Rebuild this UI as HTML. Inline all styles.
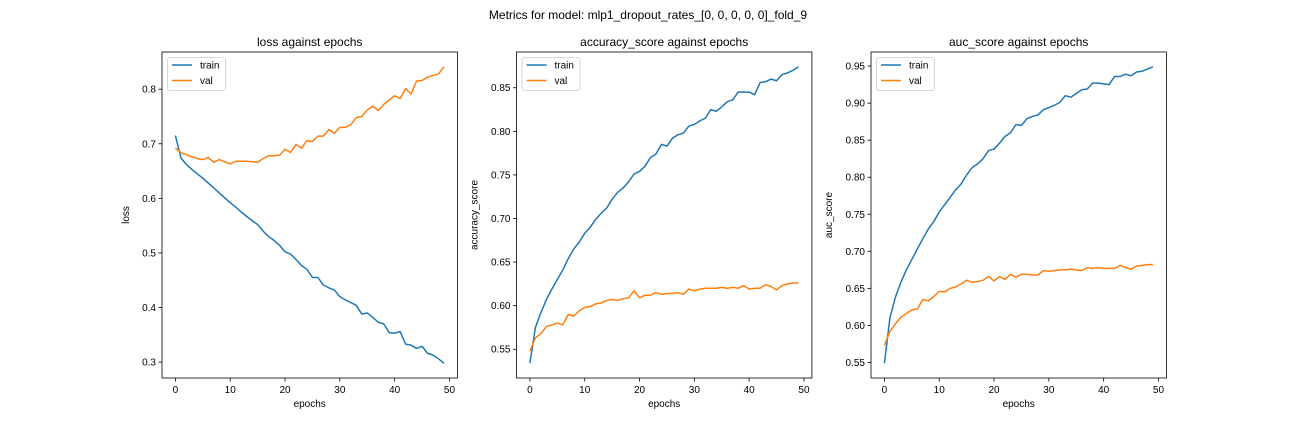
<!DOCTYPE html>
<html><head><meta charset="utf-8"><style>
body{margin:0;background:#fff;}
svg{display:block;font-family:"Liberation Sans","DejaVu Sans",sans-serif;}
</style></head><body>
<svg id="fig" width="1296" height="432" xmlns="http://www.w3.org/2000/svg">
<rect width="1296" height="432" fill="#fff"/>
<text x="648" y="19" text-anchor="middle" font-size="12" fill="#000">Metrics for model: mlp1_dropout_rates_[0, 0, 0, 0, 0]_fold_9</text>
</svg>
<script>
const epochs = Array.from({length:50},(_,i)=>i);
const lossTrain=[0.715,0.674,0.662,0.653,0.645,0.637,0.628,0.619,0.610,0.601,0.592,0.584,0.575,0.567,0.559,0.552,0.540,0.530,0.523,0.514,0.502,0.498,0.488,0.477,0.470,0.455,0.455,0.441,0.436,0.432,0.420,0.414,0.409,0.404,0.388,0.390,0.382,0.373,0.370,0.354,0.353,0.356,0.333,0.331,0.325,0.329,0.316,0.313,0.306,0.298];
const lossVal=[0.692,0.684,0.680,0.676,0.673,0.671,0.675,0.666,0.671,0.667,0.663,0.668,0.668,0.668,0.667,0.666,0.673,0.678,0.678,0.679,0.690,0.684,0.699,0.692,0.706,0.704,0.714,0.714,0.726,0.719,0.730,0.730,0.735,0.748,0.750,0.762,0.769,0.761,0.772,0.780,0.788,0.783,0.801,0.791,0.815,0.816,0.822,0.825,0.828,0.841];
const accTrain=[0.534,0.575,0.592,0.607,0.619,0.630,0.641,0.654,0.665,0.673,0.683,0.690,0.699,0.706,0.712,0.722,0.730,0.735,0.742,0.751,0.754,0.760,0.770,0.774,0.785,0.783,0.792,0.796,0.798,0.806,0.808,0.812,0.815,0.825,0.823,0.828,0.834,0.836,0.845,0.845,0.845,0.842,0.856,0.857,0.860,0.858,0.865,0.867,0.870,0.874];
const accVal=[0.548,0.563,0.568,0.576,0.578,0.580,0.578,0.590,0.588,0.594,0.598,0.599,0.602,0.603,0.606,0.607,0.606,0.608,0.609,0.617,0.609,0.612,0.612,0.615,0.613,0.614,0.614,0.615,0.613,0.619,0.617,0.619,0.620,0.620,0.620,0.621,0.620,0.621,0.620,0.623,0.619,0.620,0.620,0.624,0.622,0.618,0.623,0.625,0.626,0.626];
const aucTrain=[0.549,0.610,0.638,0.658,0.675,0.689,0.703,0.717,0.730,0.740,0.753,0.763,0.773,0.783,0.791,0.803,0.813,0.818,0.825,0.836,0.838,0.846,0.855,0.860,0.871,0.870,0.879,0.882,0.884,0.891,0.894,0.897,0.901,0.910,0.908,0.913,0.918,0.919,0.927,0.927,0.926,0.925,0.936,0.936,0.939,0.937,0.942,0.943,0.946,0.949];
const aucVal=[0.573,0.592,0.602,0.611,0.616,0.621,0.622,0.635,0.633,0.639,0.646,0.645,0.650,0.652,0.656,0.661,0.658,0.659,0.661,0.666,0.660,0.666,0.662,0.669,0.665,0.669,0.669,0.668,0.668,0.674,0.673,0.674,0.675,0.675,0.676,0.675,0.674,0.678,0.677,0.678,0.677,0.677,0.677,0.681,0.678,0.676,0.680,0.681,0.682,0.682];
const xTicks=[0,10,20,30,40,50];
const lossTicks=[0.3,0.4,0.5,0.6,0.7,0.8];
const accTicks=[0.55,0.60,0.65,0.70,0.75,0.80,0.85];
const aucTicks=[0.55,0.60,0.65,0.70,0.75,0.80,0.85,0.90,0.95];

const NS="http://www.w3.org/2000/svg";
const fig=document.getElementById('fig');
function mk(tag,attrs,parent){const e=document.createElementNS(NS,tag);for(const k in attrs)e.setAttribute(k,attrs[k]);(parent||fig).appendChild(e);return e;}

function panel(key,left,title,ylabel,train,val,yTicks,dec){
  const top=52,bottom=378,w=295.4;
  const g=mk('g',{});
  
  
  const all=train.concat(val);
  const mn=Math.min(...all),mx=Math.max(...all),pad=(mx-mn)*0.05;
  const y0=mn-pad,y1=mx+pad;
  const x0=-2.45,x1=51.45;
  const X=v=>left+(v-x0)/(x1-x0)*w;
  const Y=v=>bottom-(v-y0)/(y1-y0)*(bottom-top);
  // ticks
  xTicks.forEach(t=>{
    const tg=mk('g',{},g);
    
    
    mk('line',{x1:X(t),x2:X(t),y1:bottom,y2:bottom+3.5,stroke:'#000','stroke-width':0.8},tg);
    const t1=mk('text',{x:X(t),y:bottom+15,'text-anchor':'middle','font-size':10,fill:'#000'},tg);t1.textContent=t;
  });
  yTicks.forEach(t=>{
    const tg=mk('g',{},g);
    
    
    mk('line',{x1:left-3.5,x2:left,y1:Y(t),y2:Y(t),stroke:'#000','stroke-width':0.8},tg);
    const t1=mk('text',{x:left-6,y:Y(t)+3.5,'text-anchor':'end','font-size':10,fill:'#000'},tg);t1.textContent=t.toFixed(dec);
  });
  const series=[[train,'#1f77b4','train'],[val,'#ff7f0e','val']];
  series.forEach(([d,c,n])=>{
    const p=mk('polyline',{points:d.map((v,i)=>X(epochs[i]).toFixed(2)+','+Y(v).toFixed(2)).join(' '),fill:'none',stroke:c,'stroke-width':1.5,'stroke-linejoin':'round'},g);
    
    
  });
  const fr=mk('rect',{x:left,y:top,width:w,height:bottom-top,fill:'none',stroke:'#000','stroke-width':0.8},g);
  
  
  const tt=mk('text',{x:left+w/2,y:46,'text-anchor':'middle','font-size':12,fill:'#000'},g);tt.textContent=title;
  
  
  const xl=mk('text',{x:left+w/2,y:407,'text-anchor':'middle','font-size':10,fill:'#000'},g);xl.textContent='epochs';
  
  
  const ylx=left-(dec===1?33:39);
  const yl=mk('text',{x:ylx,y:(top+bottom)/2,'text-anchor':'middle','font-size':10,fill:'#000',transform:`rotate(-90 ${ylx} ${(top+bottom)/2})`},g);yl.textContent=ylabel;
  
  
  // legend
  const lg=mk('g',{},g);
  
  
  mk('rect',{x:left+5.5,y:top+5.5,width:58,height:33,rx:2.5,fill:'#fff','fill-opacity':0.8,stroke:'#ccc','stroke-width':0.8},lg);
  series.forEach(([d,c,n],i)=>{
    const ly=top+13+i*15.5;
    mk('line',{x1:left+10,x2:left+30,y1:ly,y2:ly,stroke:c,'stroke-width':1.5},lg);
    const t=mk('text',{x:left+38,y:ly+3.5,'font-size':10,fill:'#000'},lg);t.textContent=n;
    
    
  });
}
panel('loss',162,'loss against epochs','loss',lossTrain,lossVal,lossTicks,1);
panel('accuracy',516.5,'accuracy_score against epochs','accuracy_score',accTrain,accVal,accTicks,2);
panel('auc',871,'auc_score against epochs','auc_score',aucTrain,aucVal,aucTicks,2);
</script>
</body></html>
